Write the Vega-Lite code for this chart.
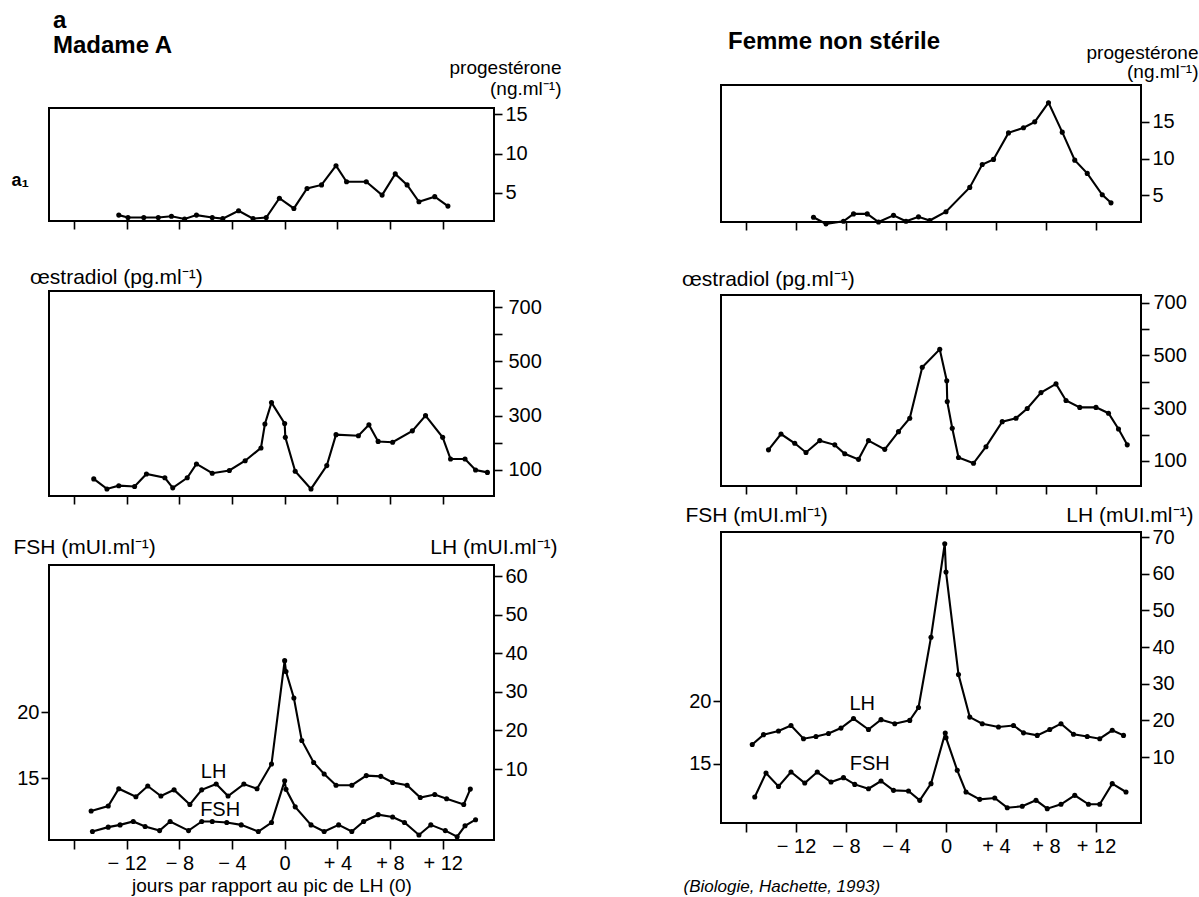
{
  "$schema": "https://vega.github.io/schema/vega-lite/v6.json",
  "background": "white",
  "padding": {"left": 10, "top": 8, "right": 0, "bottom": 0},
  "config": {
    "font": "Liberation Sans",
    "view": {"stroke": "black", "strokeWidth": 2},
    "axis": {"domain": false, "grid": false, "tickColor": "black", "tickWidth": 1.6, "tickSize": 8, "labelColor": "black", "labelFont": "Liberation Sans", "labelFontSize": 20, "labelPadding": 3, "titleFont": "Liberation Sans", "titleFontWeight": "normal", "titleFontSize": 21, "titleColor": "black"},
    "title": {"color": "black", "font": "Liberation Sans"},
    "text": {"font": "Liberation Sans", "fontSize": 20, "color": "black"},
    "line": {"color": "black", "strokeWidth": 2.1},
    "point": {"color": "black", "filled": true, "size": 26}
  },
  "datasets": {
    "progA": [{"jour":-12.6,"v":2.15},{"jour":-11.9,"v":1.85},{"jour":-10.7,"v":1.85},{"jour":-9.6,"v":1.85},{"jour":-8.6,"v":2.0},{"jour":-7.6,"v":1.65},{"jour":-6.7,"v":2.15},{"jour":-5.5,"v":1.85},{"jour":-4.7,"v":1.7},{"jour":-3.5,"v":2.7},{"jour":-2.4,"v":1.7},{"jour":-1.4,"v":1.85},{"jour":-0.4,"v":4.3},{"jour":0.7,"v":3.0},{"jour":1.7,"v":5.55},{"jour":2.8,"v":6.0},{"jour":3.9,"v":8.45},{"jour":4.7,"v":6.4},{"jour":6.2,"v":6.4},{"jour":7.4,"v":4.7},{"jour":8.4,"v":7.4},{"jour":9.3,"v":6.0},{"jour":10.2,"v":3.85},{"jour":11.4,"v":4.5},{"jour":12.4,"v":3.3}],
    "progB": [{"jour":-10.6,"v":2.05},{"jour":-9.6,"v":1.15},{"jour":-8.2,"v":1.5},{"jour":-7.4,"v":2.5},{"jour":-6.3,"v":2.5},{"jour":-5.4,"v":1.4},{"jour":-4.2,"v":2.3},{"jour":-3.2,"v":1.5},{"jour":-2.2,"v":2.1},{"jour":-1.3,"v":1.6},{"jour":0,"v":2.8},{"jour":1.9,"v":6.1},{"jour":2.9,"v":9.2},{"jour":3.8,"v":9.9},{"jour":5.0,"v":13.5},{"jour":6.2,"v":14.2},{"jour":7.1,"v":15.0},{"jour":8.2,"v":17.6},{"jour":9.3,"v":13.6},{"jour":10.3,"v":9.8},{"jour":11.3,"v":8.0},{"jour":12.5,"v":5.1},{"jour":13.2,"v":4.0}],
    "oestA": [{"jour":-14.5,"v":67},{"jour":-13.5,"v":30},{"jour":-12.6,"v":42},{"jour":-11.4,"v":39},{"jour":-10.5,"v":85},{"jour":-9.1,"v":71},{"jour":-8.5,"v":34},{"jour":-7.4,"v":71},{"jour":-6.7,"v":122},{"jour":-5.5,"v":88},{"jour":-4.2,"v":98},{"jour":-3.0,"v":134},{"jour":-1.8,"v":181},{"jour":-1.5,"v":269},{"jour":-1.0,"v":348},{"jour":0,"v":271},{"jour":0.05,"v":220},{"jour":0.8,"v":95},{"jour":2.0,"v":30},{"jour":3.2,"v":116},{"jour":3.9,"v":230},{"jour":5.6,"v":226},{"jour":6.4,"v":266},{"jour":7.1,"v":205},{"jour":8.2,"v":202},{"jour":9.7,"v":244},{"jour":10.7,"v":300},{"jour":12.0,"v":220},{"jour":12.6,"v":140},{"jour":13.7,"v":140},{"jour":14.5,"v":100},{"jour":15.4,"v":91}],
    "oestB": [{"jour":-14.2,"v":142},{"jour":-13.2,"v":202},{"jour":-12.1,"v":167},{"jour":-11.2,"v":132},{"jour":-10.1,"v":177},{"jour":-8.9,"v":161},{"jour":-8.1,"v":127},{"jour":-7.0,"v":106},{"jour":-6.2,"v":177},{"jour":-4.9,"v":144},{"jour":-3.8,"v":211},{"jour":-2.9,"v":262},{"jour":-1.9,"v":455},{"jour":-0.5,"v":523},{"jour":0.06,"v":404},{"jour":0.1,"v":325},{"jour":0.5,"v":224},{"jour":1.0,"v":113},{"jour":2.2,"v":91},{"jour":3.2,"v":154},{"jour":4.5,"v":249},{"jour":5.6,"v":262},{"jour":6.5,"v":299},{"jour":7.6,"v":359},{"jour":8.8,"v":392},{"jour":9.6,"v":329},{"jour":10.7,"v":303},{"jour":12.0,"v":303},{"jour":13.0,"v":281},{"jour":13.8,"v":221},{"jour":14.5,"v":161}],
    "lhA": [{"jour":-14.7,"v":-0.9},{"jour":-13.4,"v":0.4},{"jour":-12.6,"v":4.9},{"jour":-11.3,"v":2.8},{"jour":-10.4,"v":5.6},{"jour":-9.4,"v":3.0},{"jour":-8.4,"v":4.6},{"jour":-7.2,"v":0.8},{"jour":-6.3,"v":4.6},{"jour":-5.2,"v":6.1},{"jour":-4.3,"v":3.0},{"jour":-3.1,"v":6.1},{"jour":-2.1,"v":4.9},{"jour":-1.0,"v":11.3},{"jour":0,"v":38.1},{"jour":0.1,"v":35.3},{"jour":0.7,"v":28.4},{"jour":1.3,"v":17.4},{"jour":2.2,"v":11.7},{"jour":3.0,"v":8.7},{"jour":3.9,"v":5.8},{"jour":5.1,"v":5.8},{"jour":6.2,"v":8.3},{"jour":7.3,"v":8.1},{"jour":8.2,"v":6.5},{"jour":9.3,"v":5.8},{"jour":10.3,"v":2.6},{"jour":11.4,"v":3.4},{"jour":12.3,"v":2.3},{"jour":13.6,"v":0.8},{"jour":14.1,"v":4.8}],
    "fshA": [{"jour":-14.6,"v":11.0},{"jour":-13.4,"v":11.33},{"jour":-12.5,"v":11.5},{"jour":-11.5,"v":11.76},{"jour":-10.6,"v":11.38},{"jour":-9.5,"v":11.07},{"jour":-8.7,"v":11.76},{"jour":-7.3,"v":11.07},{"jour":-6.3,"v":11.76},{"jour":-5.5,"v":11.76},{"jour":-4.4,"v":11.68},{"jour":-3.3,"v":11.5},{"jour":-2.0,"v":11.0},{"jour":-1.0,"v":11.68},{"jour":0,"v":14.82},{"jour":0.1,"v":14.18},{"jour":0.8,"v":12.86},{"jour":2.0,"v":11.5},{"jour":3.0,"v":11.0},{"jour":4.1,"v":11.5},{"jour":5.1,"v":11.0},{"jour":6.0,"v":11.76},{"jour":7.1,"v":12.27},{"jour":8.2,"v":12.09},{"jour":9.1,"v":11.68},{"jour":10.2,"v":10.74},{"jour":11.1,"v":11.5},{"jour":12.2,"v":11.07},{"jour":13.1,"v":10.61},{"jour":13.7,"v":11.43},{"jour":14.5,"v":11.89}],
    "lhB": [{"jour":-15.5,"v":13.4},{"jour":-14.6,"v":16.1},{"jour":-13.4,"v":17.1},{"jour":-12.4,"v":18.6},{"jour":-11.4,"v":15.0},{"jour":-10.4,"v":15.6},{"jour":-9.4,"v":16.4},{"jour":-8.4,"v":17.9},{"jour":-7.4,"v":20.5},{"jour":-6.2,"v":17.5},{"jour":-5.2,"v":20.2},{"jour":-4.1,"v":19.1},{"jour":-2.9,"v":20.0},{"jour":-2.2,"v":23.5},{"jour":-1.2,"v":42.7},{"jour":-0.1,"v":68.2},{"jour":0,"v":60.5},{"jour":1.0,"v":32.5},{"jour":1.9,"v":20.9},{"jour":2.9,"v":19.1},{"jour":4.2,"v":18.2},{"jour":5.4,"v":18.6},{"jour":6.2,"v":16.6},{"jour":7.3,"v":15.9},{"jour":8.3,"v":17.5},{"jour":9.2,"v":19.1},{"jour":10.2,"v":16.2},{"jour":11.3,"v":15.6},{"jour":12.3,"v":15.0},{"jour":13.3,"v":17.3},{"jour":14.2,"v":15.9}],
    "fshB": [{"jour":-15.3,"v":12.33},{"jour":-14.4,"v":14.25},{"jour":-13.4,"v":13.18},{"jour":-12.4,"v":14.33},{"jour":-11.3,"v":13.45},{"jour":-10.3,"v":14.33},{"jour":-9.2,"v":13.53},{"jour":-8.2,"v":13.88},{"jour":-7.3,"v":13.34},{"jour":-6.2,"v":12.99},{"jour":-5.2,"v":13.61},{"jour":-4.2,"v":12.86},{"jour":-3.0,"v":12.81},{"jour":-2.1,"v":12.06},{"jour":-1.2,"v":13.40},{"jour":-0.06,"v":17.46},{"jour":0,"v":17.09},{"jour":0.9,"v":14.47},{"jour":1.6,"v":12.73},{"jour":2.7,"v":12.14},{"jour":3.9,"v":12.25},{"jour":4.9,"v":11.47},{"jour":6.1,"v":11.58},{"jour":7.2,"v":12.06},{"jour":8.1,"v":11.39},{"jour":9.2,"v":11.74},{"jour":10.3,"v":12.46},{"jour":11.4,"v":11.74},{"jour":12.3,"v":11.74},{"jour":13.3,"v":13.40},{"jour":14.4,"v":12.73}]
  },
  "spacing": 119,
  "hconcat": [
    {
      "bounds": "flush",
      "spacing": 0,
      "vconcat": [
        {"width": 445, "height": 23, "view": {"stroke": null}, "data": {"values": []}, "mark": {"type": "point", "opacity": 0}, "encoding": {}},
        {
          "spacing": 35,
          "vconcat": [
            {
              "width": 445, "height": 113,
              "title": {"text": ["a", "Madame A"], "anchor": "start", "frame": "group", "fontSize": 24, "fontWeight": "bold", "lineHeight": 25, "offset": 0, "dx": 4},
              "layer": [
                {"data": {"name": "progA"}, "mark": {"type": "line", "point": true},
                 "encoding": {
                   "x": {"field": "jour", "type": "quantitative", "scale": {"domain": [-17.9, 15.9], "nice": false, "zero": false}, "axis": {"values": [-16, -12, -8, -4, 0, 4, 8, 12], "labels": false, "title": null}},
                   "y": {"field": "v", "type": "quantitative", "scale": {"domain": [1.4, 15.8], "nice": false, "zero": false}, "axis": {"orient": "right", "values": [5, 10, 15], "title": ["progestérone", "(ng.ml⁻¹)"], "titleFontSize": 19, "titleAngle": 0, "titleAlign": "right", "titleBaseline": "top", "titleX": 67, "titleY": -50, "titleLineHeight": 21}}
                 }},
                {"data": {"name": "progA"}, "mark": {"type": "point", "opacity": 0},
                 "encoding": {
                   "x": {"field": "jour", "type": "quantitative", "scale": {"domain": [-17.9, 15.9], "nice": false, "zero": false}},
                   "y": {"field": "v", "type": "quantitative", "scale": {"domain": [1.4, 15.8], "nice": false, "zero": false}, "axis": {"orient": "left", "ticks": false, "labels": false, "title": "a₁", "titleFontWeight": "bold", "titleFontSize": 18, "titleAngle": 0, "titleAlign": "left", "titleBaseline": "middle", "titleX": -38, "titleY": 72}}
                 }},
                {"mark": {"type": "rule", "color": "black", "strokeWidth": 1.6, "strokeDash": [7, 5]},
                 "encoding": {"x": {"datum": 0, "type": "quantitative", "scale": {"domain": [-17.9, 15.9], "nice": false, "zero": false}}}}
              ]
            },
            {
              "bounds": "flush",
              "spacing": 69,
              "vconcat": [
                {
                  "width": 445, "height": 205,
                  "title": {"text": "œstradiol (pg.ml⁻¹)", "anchor": "start", "frame": "group", "offset": 3, "dx": -19, "fontSize": 21, "fontWeight": "normal"},
                  "layer": [
                    {"data": {"name": "oestA"}, "mark": {"type": "line", "point": true},
                     "encoding": {
                       "x": {"field": "jour", "type": "quantitative", "scale": {"domain": [-17.9, 15.9], "nice": false, "zero": false}, "axis": {"values": [-16, -12, -8, -4, 0, 4, 8, 12], "labels": false, "title": null}},
                       "y": {"field": "v", "type": "quantitative", "scale": {"domain": [4, 759], "nice": false, "zero": false}, "axis": {"orient": "right", "values": [100, 200, 300, 400, 500, 600, 700], "labelExpr": "datum.value % 200 == 100 ? datum.label : ''", "labelPadding": 6, "title": null}}
                     }},
                    {"mark": {"type": "rule", "color": "black", "strokeWidth": 1.6, "strokeDash": [7, 5]},
                     "encoding": {"x": {"datum": 0, "type": "quantitative", "scale": {"domain": [-17.9, 15.9], "nice": false, "zero": false}}}}
                  ]
                },
                {
                  "width": 445, "height": 275,
                  "resolve": {"scale": {"y": "independent"}},
                  "layer": [
                    {"layer": [
                      {"data": {"name": "lhA"}, "mark": {"type": "line", "point": true},
                       "encoding": {
                         "x": {"field": "jour", "type": "quantitative", "scale": {"domain": [-17.9, 15.9], "nice": false, "zero": false}, "axis": {"values": [-16, -12, -8, -4, 0, 4, 8, 12], "tickSize": 9, "labelPadding": 4, "labelExpr": "datum.value == -16 ? '' : datum.value < 0 ? '− ' + (-datum.value) : datum.value > 0 ? '+ ' + datum.value : '0'", "title": "jours par rapport au pic de LH (0)", "titleFontSize": 19, "titlePadding": 3}},
                         "y": {"field": "v", "type": "quantitative", "scale": {"domain": [-8.4, 62.9], "nice": false, "zero": false}, "axis": {"orient": "right", "values": [10, 20, 30, 40, 50, 60], "title": "LH (mUI.ml⁻¹)", "titleAngle": 0, "titleAlign": "right", "titleBaseline": "bottom", "titleX": 63, "titleY": -8}}
                       }},
                      {"data": {"values": [{"nom": "LH", "jour": -5.4, "v": 9.3}]}, "mark": {"type": "text"},
                       "encoding": {"x": {"field": "jour", "type": "quantitative"}, "y": {"field": "v", "type": "quantitative"}, "text": {"field": "nom"}}}
                    ]},
                    {"layer": [
                      {"data": {"name": "fshA"}, "mark": {"type": "line", "point": true},
                       "encoding": {
                         "x": {"field": "jour", "type": "quantitative", "scale": {"domain": [-17.9, 15.9], "nice": false, "zero": false}},
                         "y": {"field": "v", "type": "quantitative", "scale": {"domain": [10.36, 31.1], "nice": false, "zero": false}, "axis": {"orient": "left", "values": [15, 20], "labelPadding": 2, "title": "FSH (mUI.ml⁻¹)", "titleAngle": 0, "titleAlign": "left", "titleBaseline": "bottom", "titleX": -36, "titleY": -8}}
                       }},
                      {"data": {"values": [{"nom": "FSH", "jour": -4.9, "v": 12.6}]}, "mark": {"type": "text"},
                       "encoding": {"x": {"field": "jour", "type": "quantitative"}, "y": {"field": "v", "type": "quantitative"}, "text": {"field": "nom"}}}
                    ]},
                    {"mark": {"type": "rule", "color": "black", "strokeWidth": 1.6, "strokeDash": [7, 5]},
                     "encoding": {"x": {"datum": 0, "type": "quantitative", "scale": {"domain": [-17.9, 15.9], "nice": false, "zero": false}}}}
                  ]
                }
              ]
            }
          ]
        }
      ]
    },
    {
      "spacing": 35,
      "vconcat": [
        {
          "width": 420, "height": 137,
          "title": {"text": [" ", "Femme non stérile"], "anchor": "start", "frame": "group", "fontSize": 24, "fontWeight": "bold", "lineHeight": 21, "offset": -11, "dx": 7},
          "layer": [
            {"data": {"name": "progB"}, "mark": {"type": "line", "point": true},
             "encoding": {
               "x": {"field": "jour", "type": "quantitative", "scale": {"domain": [-18, 15.6], "nice": false, "zero": false}, "axis": {"values": [-16, -12, -8, -4, 0, 4, 8, 12], "labels": false, "title": null}},
               "y": {"field": "v", "type": "quantitative", "scale": {"domain": [1.4, 20], "nice": false, "zero": false}, "axis": {"orient": "right", "values": [5, 10, 15], "title": ["progestérone", "(ng.ml⁻¹)"], "titleFontSize": 19, "titleAngle": 0, "titleAlign": "right", "titleBaseline": "top", "titleX": 57, "titleY": -42, "titleLineHeight": 19}}
             }},
            {"mark": {"type": "rule", "color": "black", "strokeWidth": 1.6, "strokeDash": [7, 5]},
             "encoding": {"x": {"datum": 0, "type": "quantitative", "scale": {"domain": [-18, 15.6], "nice": false, "zero": false}}}}
          ]
        },
        {
          "bounds": "flush",
          "spacing": 46,
          "vconcat": [
            {
              "width": 420, "height": 191,
              "title": {"text": "œstradiol (pg.ml⁻¹)", "anchor": "start", "frame": "group", "offset": 3, "dx": -39, "fontSize": 21, "fontWeight": "normal"},
              "layer": [
                {"data": {"name": "oestB"}, "mark": {"type": "line", "point": true},
                 "encoding": {
                   "x": {"field": "jour", "type": "quantitative", "scale": {"domain": [-18, 15.6], "nice": false, "zero": false}, "axis": {"values": [-16, -12, -8, -4, 0, 4, 8, 12], "labels": false, "title": null}},
                   "y": {"field": "v", "type": "quantitative", "scale": {"domain": [5, 729], "nice": false, "zero": false}, "axis": {"orient": "right", "values": [100, 200, 300, 400, 500, 600, 700], "labelExpr": "datum.value % 200 == 100 ? datum.label : ''", "labelPadding": 4, "title": null}}
                 }},
                {"mark": {"type": "rule", "color": "black", "strokeWidth": 1.6, "strokeDash": [7, 5]},
                 "encoding": {"x": {"datum": 0, "type": "quantitative", "scale": {"domain": [-18, 15.6], "nice": false, "zero": false}}}}
              ]
            },
            {
              "width": 420, "height": 291,
              "resolve": {"scale": {"y": "independent"}},
              "layer": [
                {"layer": [
                  {"data": {"name": "lhB"}, "mark": {"type": "line", "point": true},
                   "encoding": {
                     "x": {"field": "jour", "type": "quantitative", "scale": {"domain": [-18, 15.6], "nice": false, "zero": false}, "axis": {"values": [-16, -12, -8, -4, 0, 4, 8, 12], "tickSize": 9, "labelPadding": 4, "labelExpr": "datum.value == -16 ? '' : datum.value < 0 ? '− ' + (-datum.value) : datum.value > 0 ? '+ ' + datum.value : '0'", "title": "(Biologie, Hachette, 1993)", "titleFontStyle": "italic", "titleFontSize": 17, "titleAnchor": "start", "titleAlign": "left", "titleX": -38, "titlePadding": 22}},
                     "y": {"field": "v", "type": "quantitative", "scale": {"domain": [-8, 71.4], "nice": false, "zero": false}, "axis": {"orient": "right", "values": [10, 20, 30, 40, 50, 60, 70], "title": "LH (mUI.ml⁻¹)", "titleAngle": 0, "titleAlign": "right", "titleBaseline": "bottom", "titleX": 52, "titleY": -7}}
                   }},
                  {"data": {"values": [{"nom": "LH", "jour": -6.7, "v": 24.5}]}, "mark": {"type": "text"},
                   "encoding": {"x": {"field": "jour", "type": "quantitative"}, "y": {"field": "v", "type": "quantitative"}, "text": {"field": "nom"}}}
                ]},
                {"layer": [
                  {"data": {"name": "fshB"}, "mark": {"type": "line", "point": true},
                   "encoding": {
                     "x": {"field": "jour", "type": "quantitative", "scale": {"domain": [-18, 15.6], "nice": false, "zero": false}},
                     "y": {"field": "v", "type": "quantitative", "scale": {"domain": [10.24, 33.6], "nice": false, "zero": false}, "axis": {"orient": "left", "values": [15, 20], "labelPadding": 2, "title": "FSH (mUI.ml⁻¹)", "titleAngle": 0, "titleAlign": "left", "titleBaseline": "bottom", "titleX": -36, "titleY": -7}}
                   }},
                  {"data": {"values": [{"nom": "FSH", "jour": -6.1, "v": 15.0}]}, "mark": {"type": "text"},
                   "encoding": {"x": {"field": "jour", "type": "quantitative"}, "y": {"field": "v", "type": "quantitative"}, "text": {"field": "nom"}}}
                ]},
                {"mark": {"type": "rule", "color": "black", "strokeWidth": 1.6, "strokeDash": [7, 5]},
                 "encoding": {"x": {"datum": 0, "type": "quantitative", "scale": {"domain": [-18, 15.6], "nice": false, "zero": false}}}}
              ]
            }
          ]
        }
      ]
    }
  ]
}
